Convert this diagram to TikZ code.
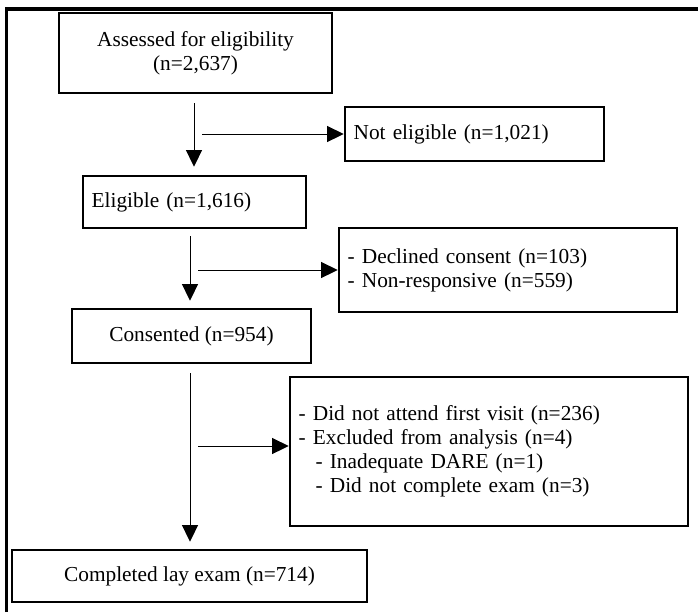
\documentclass[tikz,border=0pt]{standalone}
\usepackage{fontspec}
\setmainfont{Liberation Serif}
\usetikzlibrary{arrows.meta,calc}

\tikzset{every picture/.style={line width=0.75pt}}
\tikzset{
  flowbox/.style={draw,line width=1.9pt,inner sep=0pt,align=center,font=\fontsize{16}{18}\selectfont},
  leftbox/.style={flowbox,align=left,inner xsep=6.5pt},
  arr/.style={-{Triangle[length=12.5pt,width=12pt]}},
  frame/.style={line width=2.6pt}
}

\begin{document}
\begin{tikzpicture}[x=0.75pt,y=0.75pt,yscale=-1,xscale=1]
\useasboundingbox (0,0) rectangle (698,612);

%Straight Lines: outer frame
\draw [frame] (6.5,612) -- (6.5,9) -- (698,9);

% Text Node
\node (assess) [flowbox,minimum width=204.75pt,minimum height=60pt] at (195.5,53) {Assessed for eligibility\\(n=2,637)};
% Text Node
\node (notelig) [leftbox,text width=181.25pt,minimum height=40.5pt] at (474.5,134) {Not eligible (n=1,021)};
% Text Node
\node (elig) [leftbox,text width=154.25pt,minimum height=39pt] at (194.5,202) {Eligible (n=1,616)};
% Text Node
\node (declined) [leftbox,text width=240.5pt,minimum height=63pt] at (508,270) {- Declined consent (n=103)\\- Non-responsive (n=559)};
% Text Node
\node (consent) [flowbox,minimum width=179.25pt,minimum height=40.5pt] at (191.5,336) {Consented (n=954)};
% Text Node
\node (excl) [leftbox,text width=285.5pt,minimum height=111.75pt] at (489,451.5) {- Did not attend first visit (n=236)\\- Excluded from analysis (n=4)\\\hspace*{12.75pt}- Inadequate DARE (n=1)\\\hspace*{12.75pt}- Did not complete exam (n=3)};
% Text Node
\node (complete) [flowbox,minimum width=266.25pt,minimum height=39pt] at (189.5,576) {Completed lay exam (n=714)};

%Straight Lines
\draw [arr] ($(assess.south)+(-1.5,9)$) -- ($(assess.south |- elig.north)+(-1.5,-8)$);
\draw [arr] ($(consent.north |- elig.south)+(-1.5,7)$) -- ($(consent.north)+(-1.5,-7)$);
\draw [arr] ($(consent.south)+(-1.5,9)$) -- ($(consent.south |- complete.north)+(-1.5,-7)$);

%Straight Lines: side exits
\coordinate (tap1) at (202,134);
\coordinate (tap2) at (198,270);
\coordinate (tap3) at (198,446);
\draw [arr] (tap1) -- (tap1 -| notelig.west);
\draw [arr] (tap2) -- (tap2 -| declined.west);
\draw [arr] (tap3) -- (tap3 -| excl.west);

\end{tikzpicture}
\end{document}
